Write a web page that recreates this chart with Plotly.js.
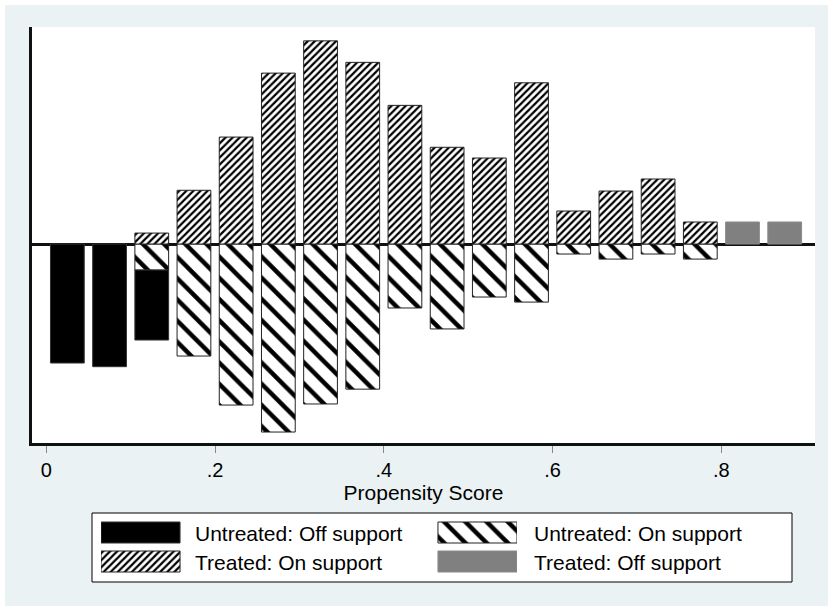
<!DOCTYPE html>
<html><head><meta charset="utf-8">
<script src="https://cdn.plot.ly/plotly-3.0.1.min.js"></script>
<style>html,body{margin:0;padding:0;background:#fff;} #chart{width:828px;height:606px;}</style>
</head><body><div id="chart"></div>
<script>
// ---- data (frequencies; untreated drawn below zero) ----
const binCenters   = [0.025,0.075,0.125,0.175,0.225,0.275,0.325,0.375,0.425,0.475,0.525,0.575,0.625,0.675,0.725,0.775,0.825,0.875];
const untreatedOff = [-11.07,-11.41,-6.51,null,null,null,null,null,null,null,null,null,null,null,null,null,null,null];
const untreatedOn  = [null,null,-2.42,-10.42,-14.98,-17.49,-14.88,-13.5,-5.95,-7.9,-4.93,-5.4,-0.93,-1.4,-0.93,-1.4,null,null];
const treatedOn    = [null,null,1.02,5.0,9.95,15.9,18.9,16.9,12.9,9.0,8.0,15.0,3.07,4.93,6.05,2.05,null,null];
const treatedOff   = [null,null,null,null,null,null,null,null,null,null,null,null,null,null,null,null,2.05,2.05];
const tickVals     = [0,0.2,0.4,0.6,0.8];
const tickText     = ['0','.2','.4','.6','.8'];
const seriesNames  = ['Untreated: Off support','Untreated: On support','Treated: On support','Treated: Off support'];
const legendRow    = [0,0,1,1];
const legendCol    = [0,1,0,1];
const legendKeyLen = [0.19,0.19,0.19,0.19];

// ---- layout helpers (pixel -> paper) ----
const W=828,H=606,ML=32,MR=13,MT=27,MB=16;
const PW=W-ML-MR, PH=H-MT-MB;
const px=x=>(x-ML)/PW, py=y=>(H-MB-y)/PH;
const FONT='"Liberation Sans", Arial, Helvetica, sans-serif';

const blackStyle = {color:'#000000', line:{color:'#333333',width:1}};
const uOnStyle = {color:'#ffffff', line:{color:'#222222',width:1},
  pattern:{shape:'\\', fillmode:'replace', fgcolor:'#000000', bgcolor:'#ffffff', size:15, solidity:0.3}};
const tOnStyle = {color:'#ffffff', line:{color:'#222222',width:1},
  pattern:{shape:'/', fillmode:'replace', fgcolor:'#000000', bgcolor:'#ffffff', size:5, solidity:0.45}};
const grayStyle = {color:'#808080', line:{color:'#8a8a8a',width:1}};
const styles=[blackStyle,uOnStyle,tOnStyle,grayStyle];

const BW=0.04;
const traces=[
  {type:'bar',x:binCenters,y:untreatedOn,width:BW,marker:uOnStyle,name:seriesNames[1],showlegend:false},
  {type:'bar',x:binCenters,y:untreatedOff,width:BW,marker:blackStyle,name:seriesNames[0],showlegend:false},
  {type:'bar',x:binCenters,y:treatedOn,width:BW,marker:tOnStyle,name:seriesNames[2],showlegend:false},
  {type:'bar',x:binCenters,y:treatedOff,width:BW,marker:grayStyle,name:seriesNames[3],showlegend:false}
];
// legend keys drawn as bars on a small helper subplot
const colStart=[0,0.81];
seriesNames.forEach((nm,i)=>{
  traces.push({type:'bar',orientation:'h',xaxis:'x2',yaxis:'y2',
    y:[legendRow[i]],x:[legendKeyLen[i]],base:[colStart[legendCol[i]]],width:0.724,
    marker:styles[i],showlegend:false,hoverinfo:'skip'});
});

const textX=[193,532], textY=[533,562];
const annotations=seriesNames.map((nm,i)=>({
  xref:'paper',yref:'paper',x:px(textX[legendCol[i]]),y:py(textY[legendRow[i]]),
  xanchor:'left',yanchor:'middle',showarrow:false,text:nm,
  font:{family:FONT,size:21,color:'#000'}
}));

const layout={
  width:W,height:H,margin:{l:ML,r:MR,t:MT,b:MB,pad:0},
  paper_bgcolor:'#EAF2F3',plot_bgcolor:'#ffffff',
  font:{family:FONT,color:'#000'},
  barmode:'relative',showlegend:false,hovermode:false,
  xaxis:{range:[-0.0169,0.9109],tickmode:'array',tickvals:tickVals,ticktext:tickText,
    ticks:'outside',ticklen:7,tickwidth:1,tickcolor:'#888888',
    tickfont:{family:FONT,size:20,color:'#000'},showgrid:false,zeroline:false,
    showline:true,linecolor:'#111111',linewidth:3,
    title:{text:'Propensity Score',font:{family:FONT,size:21,color:'#000'},standoff:2}},
  yaxis:{domain:[py(443),1],range:[-18.51,20.19],showticklabels:false,ticks:'',showgrid:false,
    zeroline:true,zerolinecolor:'#111111',zerolinewidth:3,
    showline:true,linecolor:'#111111',linewidth:3},
  xaxis2:{domain:[px(101),px(517)],range:[0,1],visible:false,anchor:'y2',fixedrange:true},
  yaxis2:{domain:[py(576),py(518)],range:[1.5,-0.5],visible:false,anchor:'x2',fixedrange:true},
  shapes:[
    {type:'rect',xref:'paper',yref:'paper',x0:px(0),x1:px(W),y0:py(0),y1:py(5),fillcolor:'#ffffff',line:{width:0},layer:'below'},
    {type:'rect',xref:'paper',yref:'paper',x0:px(0),x1:px(5),y0:py(0),y1:py(H),fillcolor:'#ffffff',line:{width:0},layer:'below'},
    {type:'rect',xref:'paper',yref:'paper',x0:px(92),x1:px(792),y0:py(582),y1:py(513),fillcolor:'#ffffff',line:{color:'#000',width:1},layer:'below'}
  ],
  annotations:annotations
};
Plotly.newPlot('chart',traces,layout,{staticPlot:true,displayModeBar:false});
</script></body></html>
